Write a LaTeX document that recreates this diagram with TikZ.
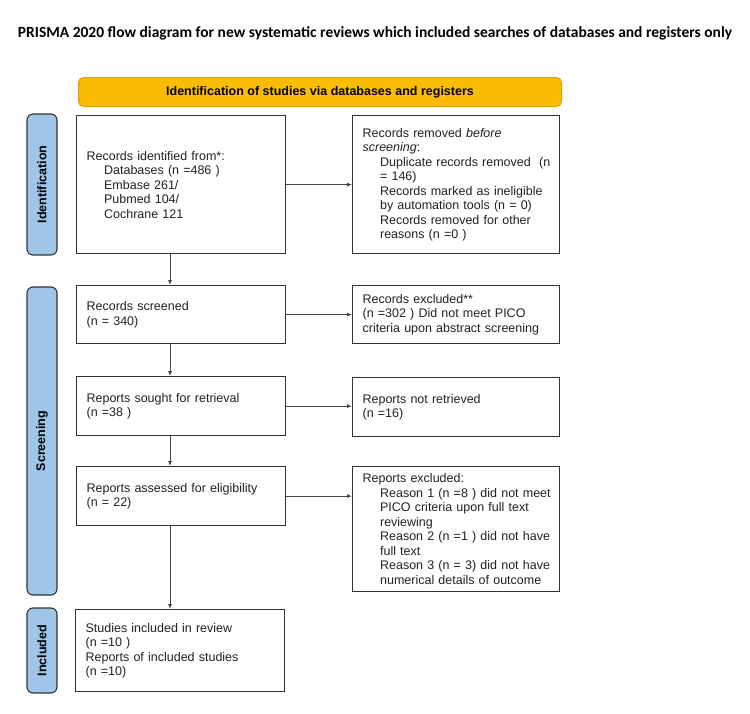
\documentclass[tikz,border=0pt]{standalone}
\usepackage{fontspec}
\setmainfont{Liberation Sans}
\newfontfamily\titlefont{Carlito}
\usetikzlibrary{arrows.meta}
\definecolor{hdrfill}{HTML}{FBBC04}
\definecolor{hdrline}{HTML}{D9A300}
\definecolor{sidefill}{HTML}{9FC5E8}
\definecolor{boxline}{HTML}{333333}
\definecolor{arrline}{HTML}{444444}
\definecolor{txt}{HTML}{222222}
\tikzset{
  bodyfont/.style={font=\fontsize{12.5}{14.5}\selectfont, text=txt},
  lbox/.style={draw=boxline, line width=1.2pt, bodyfont, align=left, anchor=north west,
    inner xsep=2pt, inner ysep=0pt, text width=205pt},
  rbox/.style={draw=boxline, line width=1.2pt, bodyfont, align=left, anchor=north west,
    inner xsep=2pt, inner ysep=0pt, text width=203pt},
  sidelab/.style={draw=boxline, line width=1.1pt, fill=sidefill, rounded corners=6pt,
    minimum width=30pt, inner sep=0pt, font=\bfseries\fontsize{12.5}{14}\selectfont},
  arr/.style={draw=arrline, line width=0.8pt, -{Latex[length=5pt,width=4pt]}},
}
\newcommand{\ind}{\hspace*{25.5pt}}
\newcommand{\pl}{\hspace*{8pt}}
\begin{document}
\begin{tikzpicture}[x=1pt,y=-1pt]
\useasboundingbox (0,0) rectangle (750,713);
\fill[white] (0,0) rectangle (750,713);
% title
\node (title) at (375,33) {\titlefont\bfseries\fontsize{15.5}{17}\selectfont PRISMA 2020 flow diagram for new systematic reviews which included searches of databases and registers only};
% header
\node[draw=hdrline, line width=1pt, fill=hdrfill, rounded corners=5pt, anchor=north west,
  minimum width=483pt, minimum height=29pt, inner sep=0pt,
  font=\bfseries\fontsize{12.5}{14}\selectfont] (hdr) at (78,77) {Identification of studies via databases and registers};
% side labels
\node[sidelab, minimum height=141pt] (sid) at (42,184.5) {\rotatebox{90}{Identification}};
\node[sidelab, minimum height=308pt] (sscr) at (42,441) {\rotatebox{90}{Screening}};
\node[sidelab, minimum height=85pt] (sinc) at (42,650.5) {\rotatebox{90}{Included}};
% left boxes
\node[lbox, minimum height=138pt] (b1) at (76,115) {\pl Records identified from*:\\ \ind Databases (n =486 )\\ \ind Embase 261/\\ \ind Pubmed 104/\\ \ind Cochrane 121};
\node[lbox, minimum height=58pt] (b2) at (76,285) {\pl Records screened\\ \pl (n = 340)};
\node[lbox, minimum height=59pt] (b3) at (76,376) {\pl Reports sought for retrieval\\ \pl (n =38 )};
\node[lbox, minimum height=59pt] (b4) at (76,466) {\pl Reports assessed for eligibility\\ \pl (n = 22)};
\node[lbox, minimum height=82pt] (b5) at (75,609) {\pl Studies included in review\\ \pl (n =10 )\\ \pl Reports of included studies\\ \pl (n =10)};
% right boxes
\node[rbox, minimum height=138pt] (r1) at (352,115) {\pl Records removed \textit{before}\\ \pl \textit{screening}:\\ \ind Duplicate records removed\ \ (n\\ \ind = 146)\\ \ind Records marked as ineligible\\ \ind by automation tools (n = 0)\\ \ind Records removed for other\\ \ind reasons (n =0 )};
\node[rbox, minimum height=58pt] (r2) at (352,285) {\pl Records excluded**\\ \pl (n =302 ) Did not meet PICO\\ \pl criteria upon abstract screening};
\node[rbox, minimum height=59pt] (r3) at (352,377) {\pl Reports not retrieved\\ \pl (n =16)};
\node[rbox, minimum height=125pt] (r4) at (352,466) {\pl Reports excluded:\\ \ind Reason 1 (n =8 ) did not meet\\ \ind PICO criteria upon full text\\ \ind reviewing\\ \ind Reason 2 (n =1 ) did not have\\ \ind full text\\ \ind Reason 3 (n = 3) did not have\\ \ind numerical details of outcome};
% connectors
\coordinate (vx) at (170,0);
\draw[arr] (b1.south -| vx) -- (b2.north -| vx);
\draw[arr] (b2.south -| vx) -- (b3.north -| vx);
\draw[arr] (b3.south -| vx) -- (b4.north -| vx);
\draw[arr] (b4.south -| vx) -- (b5.north -| vx);
\draw[arr] (b1.east) -- (b1.east -| r1.west);
\draw[arr] (b2.east) -- (b2.east -| r2.west);
\draw[arr] (b3.east) -- (b3.east -| r3.west);
\draw[arr] (b4.east) -- (b4.east -| r4.west);
\end{tikzpicture}
\end{document}
